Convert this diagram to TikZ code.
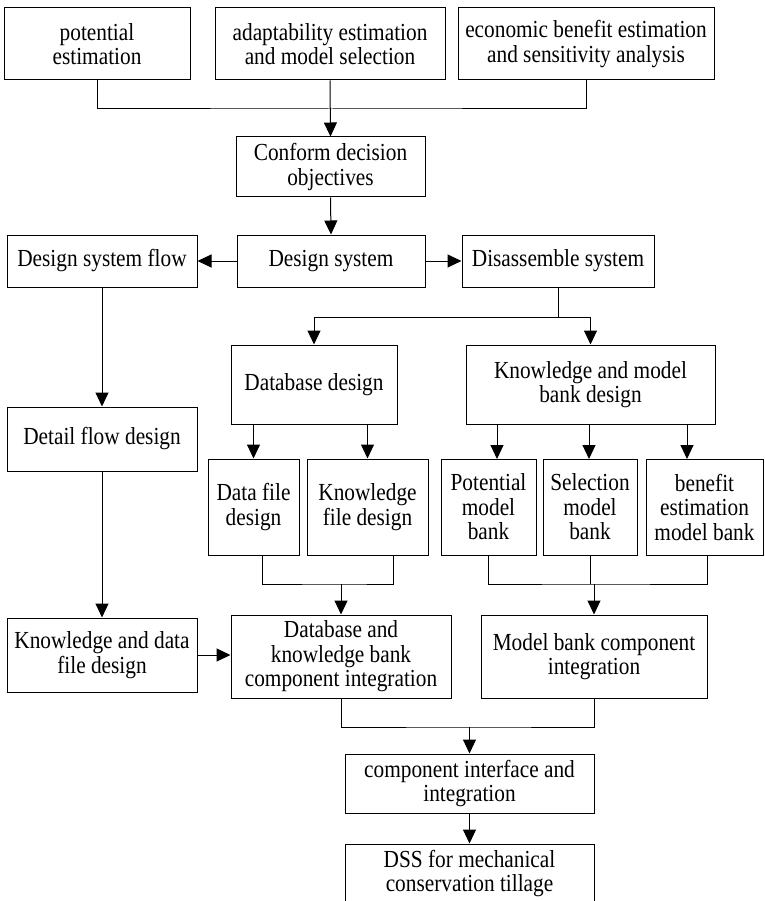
\documentclass[tikz,border=0pt]{standalone}
\usepackage{fontspec}
\setmainfont{Liberation Serif}[FakeStretch=0.87]
\usetikzlibrary{arrows.meta}
\tikzset{
  bx/.style={draw, line width=1pt, inner sep=0pt, align=center,
    font=\fontsize{24.5}{24.5}\selectfont},
  ln/.style={line width=1pt},
  arr/.style={line width=1pt, -{Triangle[length=14pt,width=13pt]}}
}
\newcommand\mybox[6]{\node[bx,minimum width={#4-#2},minimum height={#5-#3}] (#1) at ({(#2+#4)/2},{(#3+#5)/2}) {#6};}
\begin{document}
\begin{tikzpicture}[x=1pt,y=-1pt]
\fill[white] (0,0) rectangle (764,901);
\useasboundingbox (0,0) rectangle (764,901);
\mybox{pe}{4}{8}{190}{80}{potential\\estimation}
\mybox{ad}{215}{8}{445}{80}{adaptability estimation\\and model selection}
\mybox{eb}{458}{8}{714}{80}{economic benefit estimation\\and sensitivity analysis}
\mybox{co}{236}{137}{425}{197}{Conform decision\\objectives}
\mybox{dsf}{7}{235}{197}{287}{Design system flow}
\mybox{ds}{237}{235}{425}{287}{Design system}
\mybox{dis}{462}{235}{654}{287}{Disassemble system}
\mybox{dbd}{231}{345}{397}{424}{Database design}
\mybox{kmb}{466}{345}{715}{424}{Knowledge and model\\bank design}
\mybox{dfd}{7}{407}{197}{471}{Detail flow design}
\mybox{df}{208}{459}{299}{555}{Data file\\design}
\mybox{kf}{307}{459}{428}{555}{Knowledge\\file design}
\mybox{pm}{441}{459}{536}{555}{Potential\\model\\bank}
\mybox{sm}{543}{459}{637}{555}{Selection\\model\\bank}
\mybox{bm}{646}{459}{763}{555}{benefit\\estimation\\model bank}
\mybox{kdf}{7}{618}{197}{692}{Knowledge and data\\file design}
\mybox{dbi}{231}{615}{451}{698}{Database and\\knowledge bank\\component integration}
\mybox{mbi}{481}{615}{707}{698}{Model bank component\\integration}
\mybox{ci}{345}{754}{594}{813}{component interface and\\integration}
\mybox{dss}{345}{844}{594}{903}{DSS for mechanical\\conservation tillage}
% top merge
\coordinate (j1) at (330.5,109);
\draw[ln] (pe.south) |- (j1) -| (eb.south);
\draw[arr] (ad.south) -- (co.north);
\draw[arr] (co.south) -- (ds.north);
\draw[arr] (ds.west) -- (dsf.east);
\draw[arr] (ds.east) -- (dis.west);
% disassemble split
\coordinate (j2) at (558,317);
\draw[ln] (dis.south) -- (j2);
\draw[arr] (j2) -| (dbd.north);
\draw[arr] (j2) -| (kmb.north);
% left column
\draw[arr] (dsf.south) -- (dfd.north);
\draw[arr] (dfd.south) -- (kdf.north);
\draw[arr] (kdf.east) -- (kdf.east -| dbi.west);
% database design to files
\draw[arr] (dbd.south -| df.north) -- (df.north);
\draw[arr] (dbd.south -| kf.north) -- (kf.north);
% knowledge and model bank to banks
\coordinate (t1) at (497,459);
\coordinate (t2) at (589,459);
\coordinate (t3) at (687,459);
\draw[arr] (kmb.south -| t1) -- (t1);
\draw[arr] (kmb.south -| t2) -- (t2);
\draw[arr] (kmb.south -| t3) -- (t3);
% files merge
\coordinate (b1) at (262,555);
\coordinate (b2) at (393,555);
\coordinate (j3) at (341,584);
\draw[ln] (b1) |- (j3) -| (b2);
\draw[arr] (j3) -- (dbi.north);
% banks merge
\coordinate (c1) at (488,555);
\coordinate (c3) at (707,555);
\coordinate (j4) at (594,584);
\draw[ln] (c1) |- (j4) -| (c3);
\draw[ln] (sm.south) -- (sm.south |- j4);
\draw[arr] (j4) -- (mbi.north);
% final merge
\coordinate (j5) at (469.5,727);
\draw[ln] (dbi.south) |- (j5) -| (mbi.south);
\draw[arr] (j5) -- (ci.north);
\draw[arr] (ci.south) -- (dss.north);
\end{tikzpicture}
\end{document}
